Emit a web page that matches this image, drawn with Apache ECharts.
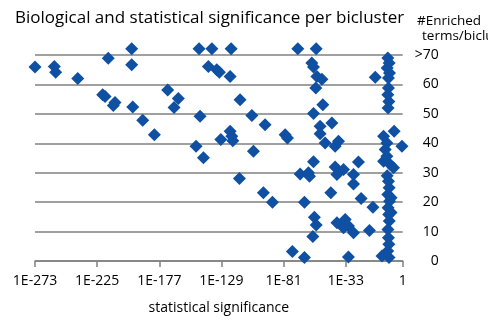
<!DOCTYPE html>
<html>
<head>
<meta charset="utf-8">
<script src="https://cdn.jsdelivr.net/npm/echarts@6/dist/echarts.min.js"></script>
<style>
  html, body { margin: 0; padding: 0; background: #fff; }
  #chart { width: 488px; height: 320px; }
</style>
</head>
<body>
<div id="chart"></div>
<script>
// statistical significance as exponent of 10 (1E-xxx), one entry per bicluster
const sigExp = [
  -273, -258.1, -257, -240, -216.4, -198.3, -198.3, -220.7, -218.9, -211.2,
  -212.5, -197.5, -189.8, -180.8, -170.5, -162.3, -165.6, -145.5, -148.6, -142.9,
  -146.3, -136.4, -139.1, -132.6, -130.6, -122.3, -121.5, -114.6, -105.5, -95.3,
  -79.8, -78, -122.3, -121, -129.5, -120.2, -104.3, -115.1, -96.6, -89.6,
  -74.2, -64.9, -64.9, -68.2, -61.8, -61, -57.9, -57.2, -55.8, -58.4,
  -70, -55.8, -59.2, -57.9, -55.3, -51.4, -56.1, -50.7, -57.9, -52.8,
  -52.8, -48.9, -43.7, -41.2, -38.6, -41.2, -34.7, -39.8, -23.2, -27,
  -27, -44.5, -21.1, -12, -39.8, -33.4, -30.9, -34.7, -27, -14.7,
  -30.9, -10.2,
  -0.5, 0.5, -1, 0.8, 0,
  0, -0.5, 0.3, -0.3,
  4.4, 10.4, -3.8, -1.2, -2.5, -1.2, 1.3, -3.8, 3.9,
  0, 0.5, -0.5, 0.8, -0.3, 0.2, 0.6, -0.4, 0, 0.3, -0.6, 0.4, -5, 2, 2, -1
];
// number of enriched terms per bicluster (values above 70 shown in the ">70" band)
const termCounts = [
  65.9, 66.1, 64.1, 62.0, 68.9, 72.1, 66.7, 56.5, 55.9, 53.9,
  52.8, 52.3, 47.8, 42.9, 58.1, 55.2, 52.2, 49.2, 39.0, 35.1,
  72.1, 72.1, 66.1, 65.0, 64.1, 62.7, 72.1, 54.8, 49.4, 46.3,
  42.9, 41.8, 44.1, 42.4, 41.3, 40.9, 37.3, 28.0, 23.2, 20.0,
  3.2, 1.2, 20.0, 29.6, 30.0, 28.8, 33.7, 14.9, 12.2, 8.3,
  72.1, 72.1, 67.3, 65.9, 62.7, 61.8, 58.8, 53.1, 50.1, 45.8,
  43.2, 40.1, 46.9, 39.0, 40.7, 31.9, 31.1, 29.4, 33.6, 29.4,
  26.2, 23.2, 21.2, 18.3, 13.0, 14.1, 11.9, 11.3, 9.6, 10.4,
  1.4, 62.4,
  69, 67.3, 65.6, 63.9, 62.2,
  58.8, 56.5, 54.2, 52.0,
  44.1, 39, 42.4, 40.1, 37.9, 35.6, 32.8, 33.9, 31.7,
  27.1, 24.9, 22.6, 20.3, 18.1, 15.8, 13.6, 10.7, 7.9, 5.7, 3.4, 1.2, 1.7, 21.5, 16.5, 29
];

const xTickValues = [-273, -225, -177, -129, -81, -33, 11];
const xTickLabels = ['1E-273', '1E-225', '1E-177', '1E-129', '1E-81', '1E-33', '1'];
const yTickLabels = ['0', '10', '20', '30', '40', '50', '60', '>70'];

const points = sigExp.map((x, i) => [x, termCounts[i]]);
const labelFont = 'Open Sans';

const chart = echarts.init(document.getElementById('chart'));
chart.setOption({
  animation: false,
  title: {
    text: 'Biological and statistical significance per bicluster',
    left: 10,
    top: 5,
    textStyle: { fontFamily: labelFont, fontSize: 17, fontWeight: 'normal', color: '#000' }
  },
  graphic: [
    { type: 'text', left: 417, top: 14, style: { text: '#Enriched', font: '13.5px "Open Sans"', fill: '#000' } },
    { type: 'text', left: 422, top: 29, style: { text: 'terms/bicluster', font: '13.5px "Open Sans"', fill: '#000' } }
  ],
  grid: { left: 35, right: 85.3, top: 55, bottom: 58.3 },
  xAxis: {
    type: 'value',
    min: -273,
    max: 11,
    name: 'statistical significance',
    nameLocation: 'middle',
    nameGap: 40,
    nameTextStyle: { fontFamily: labelFont, fontSize: 14, color: '#000' },
    axisLine: { lineStyle: { color: '#808080', width: 1.5 } },
    axisTick: { show: true, length: 6, customValues: xTickValues, lineStyle: { color: '#808080', width: 1.5 } },
    axisLabel: {
      customValues: xTickValues,
      margin: 13,
      fontFamily: labelFont,
      fontSize: 14,
      color: '#000',
      formatter: v => xTickLabels[xTickValues.indexOf(v)]
    },
    splitLine: { show: false }
  },
  yAxis: {
    type: 'value',
    position: 'right',
    min: 0,
    max: 70,
    interval: 10,
    axisLine: { show: false },
    axisTick: { show: false },
    axisLabel: {
      margin: 36,
      align: 'right',
      padding: [8, 0, 0, 0],
      fontFamily: labelFont,
      fontSize: 14,
      color: '#000',
      formatter: v => yTickLabels[v / 10]
    },
    splitLine: { lineStyle: { color: '#808080', width: 1.5 } }
  },
  series: [{
    type: 'scatter',
    data: points,
    symbol: 'diamond',
    symbolSize: 13,
    clip: false,
    itemStyle: { color: '#0f50a3', opacity: 1 }
  }]
});
</script>
</body>
</html>
